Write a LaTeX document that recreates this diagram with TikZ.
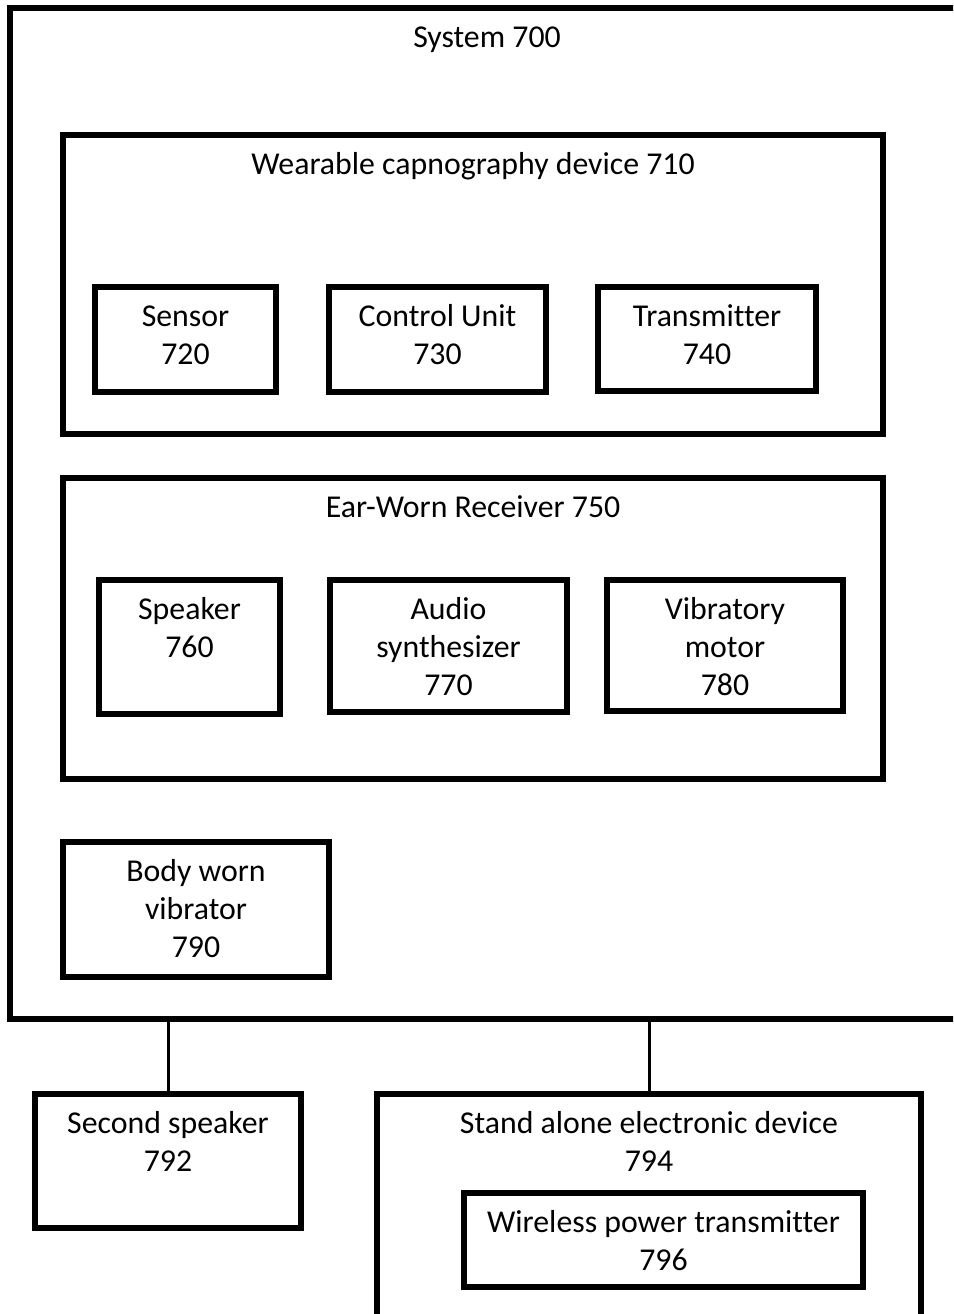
\documentclass[tikz,border=0pt]{standalone}
\usepackage{fontspec}
\setmainfont[Ligatures={NoCommon}]{Carlito}
\usetikzlibrary{calc}
\newcommand{\fsz}{\fontsize{31.8pt}{38pt}\selectfont}
\newcommand{\tstrut}{\rule{0pt}{30pt}}
\tikzset{
  box/.style={draw=black, line width=6pt, rectangle, inner sep=0pt, fill=none},
  lbl/.style={anchor=north, align=center, inner sep=0pt, font=\fsz},
  link/.style={draw=black, line width=3pt}
}
\begin{document}
\begin{tikzpicture}[x=1pt,y=-1pt]
\useasboundingbox (0,0) rectangle (953,1314);
\fill[white] (0,0) rectangle (953,1314);
\clip (0,0) rectangle (953,1314);
% boxes
\node[box, minimum width=954pt, minimum height=1011pt] (system) at (487,513.5) {};
\node[box, minimum width=820pt, minimum height=299pt] (wearable) at (473,284.5) {};
\node[box, minimum width=181pt, minimum height=105pt] (sensor) at (185.5,339.5) {};
\node[box, minimum width=217pt, minimum height=105pt] (control) at (437.5,339.5) {};
\node[box, minimum width=218pt, minimum height=104pt] (transmitter) at (707,339) {};
\node[box, minimum width=820pt, minimum height=301pt] (ear) at (473,628.5) {};
\node[box, minimum width=181pt, minimum height=134pt] (speaker) at (189.5,647) {};
\node[box, minimum width=237pt, minimum height=132pt] (audio) at (448.5,646) {};
\node[box, minimum width=236pt, minimum height=131pt] (vibratory) at (725,645.5) {};
\node[box, minimum width=266pt, minimum height=135pt] (body) at (196,909.5) {};
\node[box, minimum width=266pt, minimum height=134pt] (second) at (168,1161) {};
\node[box, minimum width=544pt, minimum height=246pt] (stand) at (649,1217) {};
\node[box, minimum width=399pt, minimum height=94pt] (wireless) at (663.5,1240) {};
% labels
\node[lbl] (tsystem) at ($(system.north)+(0,12)$) {\tstrut System 700};
\node[lbl] (twearable) at ($(wearable.north)+(0,12)$) {\tstrut Wearable capnography device 710};
\node[lbl] (tsensor) at ($(sensor.north)+(0,12)$) {\tstrut Sensor\\720};
\node[lbl] (tcontrol) at ($(control.north)+(0,12)$) {\tstrut Control Unit\\730};
\node[lbl] (ttransmitter) at ($(transmitter.north)+(0,12)$) {\tstrut Transmitter\\740};
\node[lbl] (tear) at ($(ear.north)+(0,12)$) {\tstrut Ear-Worn Receiver 750};
\node[lbl] (tspeaker) at ($(speaker.north)+(0,12)$) {\tstrut Speaker\\760};
\node[lbl] (taudio) at ($(audio.north)+(0,12)$) {\tstrut Audio\\synthesizer\\770};
\node[lbl] (tvibratory) at ($(vibratory.north)+(0,12)$) {\tstrut Vibratory\\motor\\780};
\node[lbl] (tbody) at ($(body.north)+(0,12)$) {\tstrut Body worn\\vibrator\\790};
\node[lbl] (tsecond) at ($(second.north)+(0,12)$) {\tstrut Second speaker\\792};
\node[lbl] (tstand) at ($(stand.north)+(0,12)$) {\tstrut Stand alone electronic device\\794};
\node[lbl] (twireless) at ($(wireless.north)+(0,12)$) {\tstrut Wireless power transmitter\\796};
% connectors
\draw[link] (second.north) -- (second.north |- system.south);
\draw[link] (stand.north) -- (stand.north |- system.south);
\end{tikzpicture}
\end{document}
